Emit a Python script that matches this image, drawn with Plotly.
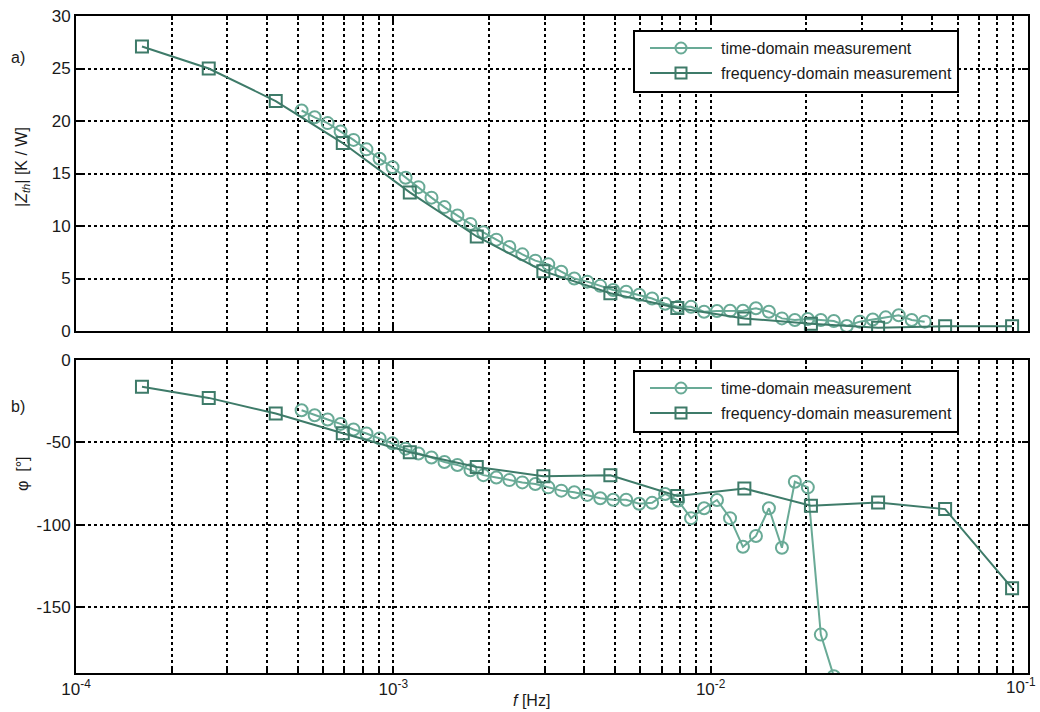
import plotly.graph_objects as go
from plotly.subplots import make_subplots

# ---------------- data ----------------
# time-domain measurement (circles)
f_time = [5.14e-4, 5.65e-4, 6.21e-4, 6.82e-4, 7.49e-4, 8.23e-4, 9.05e-4, 9.94e-4,
          1.093e-3, 1.200e-3, 1.319e-3, 1.449e-3, 1.592e-3, 1.750e-3, 1.922e-3,
          2.112e-3, 2.321e-3, 2.550e-3, 2.802e-3, 3.079e-3, 3.383e-3, 3.717e-3,
          4.084e-3, 4.487e-3, 4.930e-3, 5.417e-3, 5.952e-3, 6.539e-3, 7.185e-3,
          7.894e-3, 8.673e-3, 9.533e-3, 1.047e-2, 1.151e-2, 1.264e-2, 1.389e-2,
          1.526e-2, 1.677e-2, 1.842e-2, 2.024e-2, 2.224e-2, 2.444e-2, 2.685e-2,
          2.951e-2, 3.242e-2, 3.562e-2, 3.914e-2, 4.300e-2, 4.725e-2]
zth_time = [21.0, 20.35, 19.8, 19.0, 18.2, 17.3, 16.4, 15.6, 14.6, 13.7, 12.7, 11.8,
            11.0, 10.2, 9.4, 8.7, 8.0, 7.3, 6.7, 6.35, 5.65, 5.0, 4.7, 4.3, 3.9,
            3.74, 3.45, 3.1, 2.6, 2.3, 2.3, 1.84, 1.9, 1.93, 1.93, 2.16, 1.84, 1.2,
            1.05, 1.14, 1.05, 0.95, 0.48, 0.89, 1.1, 1.3, 1.5, 1.05, 0.89]
phi_time = [-30.5, -33.5, -36.1, -38.8, -42.2, -44.6, -47.6, -50.6, -53.8, -56.8,
            -59.2, -61.9, -63.7, -66.9, -69.9, -71.3, -72.9, -74.3, -75.3, -77.3,
            -79.3, -80.3, -81.9, -83.9, -84.8, -84.8, -87.3, -86.7, -81.3, -85.3,
            -96.0, -90.0, -85.0, -96.0, -113.4, -106.8, -90.0, -114.0, -73.9, -77.3,
            -166.7, -192.0, None, None, None, None, None, None, None]

# frequency-domain measurement (squares)
f_freq = [1.614e-4, 2.62e-4, 4.26e-4, 6.93e-4, 1.127e-3, 1.832e-3, 2.97e-3, 4.83e-3,
          7.85e-3, 1.277e-2, 2.07e-2, 3.37e-2, 5.48e-2, 8.91e-2]
zth_freq = [27.1, 25.0, 21.9, 17.9, 13.2, 9.0, 5.7, 3.6, 2.2, 1.2, 0.7, 0.3, 0.45, 0.45]
phi_freq = [-16.3, -23.0, -32.5, -44.5, -56.0, -65.0, -70.5, -70.0, -82.5, -78.0,
            -88.5, -86.5, -90.5, -138.5]

x_tickvals = [1e-4, 1e-3, 1e-2, 1e-1]
x_ticktext = ["10<sup>-4</sup>", "10<sup>-3</sup>", "10<sup>-2</sup>", "10<sup>-1</sup>"]
y1_ticks = [0, 5, 10, 15, 20, 25, 30]
y2_ticks = [0, -50, -100, -150]
y2_ticktext = ["0", "-50", "-100", "-150"]

names = ["time-domain measurement", "frequency-domain measurement"]

# ---------------- styling ----------------
C_TIME = "#69aa96"
C_FREQ = "#3e7b69"
FONT = "Liberation Sans, Arial, sans-serif"
TXT = "#1a1a1a"

W, H = 1040, 712
ML, MR, MT, MB = 76, 12, 16, 39
PW, PH = W - ML - MR, H - MT - MB


def px(xp):
    return (xp - ML) / PW


def py(yp):
    return (H - MB - yp) / PH


fig = make_subplots(rows=2, cols=1, vertical_spacing=0.0)

for row, (yt, yf) in enumerate([(zth_time, zth_freq), (phi_time, phi_freq)], start=1):
    fig.add_trace(go.Scatter(
        x=f_time, y=yt, mode="lines+markers", name=names[0], showlegend=False,
        line=dict(color=C_TIME, width=2),
        marker=dict(symbol="circle-open", size=12, color=C_TIME, line=dict(width=2)),
    ), row=row, col=1)
    fig.add_trace(go.Scatter(
        x=f_freq, y=yf, mode="lines+markers", name=names[1], showlegend=False,
        line=dict(color=C_FREQ, width=2),
        marker=dict(symbol="square-open", size=12, color=C_FREQ, line=dict(width=2)),
    ), row=row, col=1)

# last decade label is drawn separately (right-aligned) so it stays inside the page
axis_ticktext = x_ticktext[:-1] + [""]

common_x = dict(
    type="log", range=[-4, -1], tickvals=x_tickvals, ticktext=axis_ticktext,
    ticklabeloverflow="allow", automargin=False,
    showline=True, linecolor="black", linewidth=2, mirror="ticks",
    ticks="inside", ticklen=6, tickcolor="black", tickwidth=1.5,
    showgrid=True, gridcolor="black", griddash="dot", gridwidth=1.5,
    minor=dict(showgrid=True, gridcolor="black", griddash="dot", gridwidth=1.5,
               ticks="inside", ticklen=4, tickcolor="black",
               tickvals=[m * 10 ** e for e in (-4, -3, -2) for m in range(2, 10)]),
    tickfont=dict(family=FONT, size=17, color=TXT), zeroline=False,
)
fig.update_xaxes(**common_x)
fig.update_xaxes(showticklabels=False, row=1, col=1)

common_y = dict(
    automargin=False, ticklabeloverflow="allow",
    showline=True, linecolor="black", linewidth=2, mirror="ticks",
    ticks="inside", ticklen=6, tickcolor="black", tickwidth=1.5,
    showgrid=True, gridcolor="black", griddash="dot", gridwidth=1.5,
    tickfont=dict(family=FONT, size=17, color=TXT), zeroline=False,
)
fig.update_yaxes(**common_y)
fig.update_yaxes(range=[0, 30], tickvals=y1_ticks, domain=[py(331), 1.0], row=1, col=1)
fig.update_yaxes(range=[-190, 0], tickvals=y2_ticks, ticktext=y2_ticktext,
                 domain=[0.0, py(360)], row=2, col=1)

fig.update_layout(
    width=W, height=H,
    margin=dict(l=ML, r=MR, t=MT, b=MB, autoexpand=False),
    plot_bgcolor="white", paper_bgcolor="white",
    font=dict(family=FONT, color=TXT),
    showlegend=False,
)

# ---------------- hand-drawn legends (one per panel) ----------------
for top in (31, 371):
    fig.add_shape(type="rect", xref="paper", yref="paper",
                  x0=px(634), x1=px(958), y0=py(top + 61), y1=py(top),
                  line=dict(color="black", width=2), fillcolor="white", layer="above")
    for k, (name, col, sym) in enumerate([(names[0], C_TIME, "circle"),
                                          (names[1], C_FREQ, "rect")]):
        yrow = top + 17 + 25 * k
        fig.add_shape(type="line", xref="paper", yref="paper",
                      x0=px(650), x1=px(712), y0=py(yrow), y1=py(yrow),
                      line=dict(color=col, width=2), layer="above")
        fig.add_shape(type=sym, xref="paper", yref="paper",
                      xsizemode="pixel", ysizemode="pixel",
                      xanchor=px(681), yanchor=py(yrow),
                      x0=-5.5, x1=5.5, y0=-5.5, y1=5.5,
                      line=dict(color=col, width=2), fillcolor="rgba(0,0,0,0)",
                      layer="above")
        fig.add_annotation(text=name, xref="paper", yref="paper", showarrow=False,
                           x=px(719), y=py(yrow), xanchor="left", yanchor="middle",
                           font=dict(family=FONT, size=16, color=TXT))

ann = dict(xref="paper", yref="paper", showarrow=False,
           font=dict(family=FONT, size=16, color=TXT))
fig.add_annotation(text="a)", x=px(9), y=py(57), xanchor="left", yanchor="middle", **ann)
fig.add_annotation(text="b)", x=px(9), y=py(406), xanchor="left", yanchor="middle", **ann)
fig.add_annotation(text="|<i>Z</i><sub><i>th</i></sub>| [K / W]", x=px(22), y=py(167),
                   xanchor="center", yanchor="middle", textangle=-90, **ann)
fig.add_annotation(text="φ  [°]", x=px(22), y=py(474),
                   xanchor="center", yanchor="middle", textangle=-90, **ann)
fig.add_annotation(text="<i>f</i> [Hz]", x=px(531), y=py(700),
                   xanchor="center", yanchor="middle", **ann)
fig.add_annotation(text=x_ticktext[-1], xref="paper", yref="paper", showarrow=False,
                   x=px(1038), y=py(686), xanchor="right", yanchor="middle",
                   font=dict(family=FONT, size=17, color=TXT))

fig.write_html("out.html")
